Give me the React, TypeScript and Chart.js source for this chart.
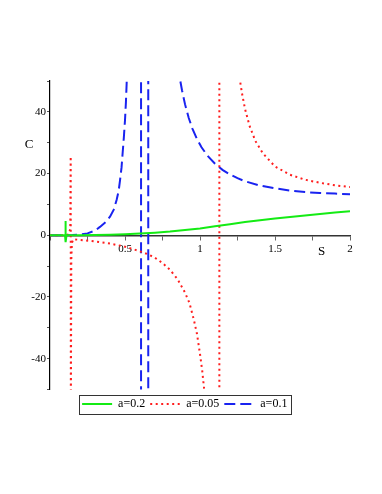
import { useEffect, useRef } from 'react';
import { Chart, registerables } from 'chart.js';

Chart.register(...registerables);

const seriesLabels = ['a=0.2', 'a=0.05', 'a=0.1'];
const xTitle = 'S';
const yTitle = 'C';

const xTickLabels = [0.5, 1, 1.5, 2];
const yTickLabels = [-40, -20, 0, 20, 40];

// a = 0.2 (green, solid)
const greenS = [0, 0.05, 0.1, 0.103, 0.105, 0.11, 0.15, 0.2, 0.3, 0.4, 0.5, 0.6, 0.7, 0.8, 0.9, 1.0, 1.1, 1.2, 1.3, 1.4, 1.5, 1.6, 1.7, 1.8, 1.9, 2.0];
const greenC = [0, 0, 0, 4.6, -2.2, 0, 0.01, 0.03, 0.08, 0.18, 0.35, 0.55, 0.85, 1.2, 1.7, 2.2, 2.9, 3.6, 4.3, 4.9, 5.4, 5.9, 6.4, 6.9, 7.35, 7.8];

// a = 0.05 (red, dotted)
const redS = [0, 0.05, 0.1, 0.125, 0.135, 0.138, 0.139, 0.142, 0.146, 0.155, 0.2, 0.3, 0.4, 0.5, 0.58, 0.65, 0.7, 0.75, 0.8, 0.85, 0.9, 0.93, 0.96, 0.98, 1.0, 1.015, 1.03, null, 1.129, 1.129, null, 1.26, 1.267, 1.28, 1.3, 1.33, 1.37, 1.42, 1.5, 1.6, 1.7, 1.8, 1.9, 2.0];
const redC = [0, 0, 0, 0.3, 2, 25.6, -60, -8, -2.5, -1.3, -1.5, -2.0, -2.7, -3.7, -4.9, -6.1, -7.3, -9.0, -11.2, -14.2, -18.6, -22, -27.6, -32, -38.5, -44, -51, null, -60, 60, null, 53, 50, 46, 41, 35.5, 30.5, 26.5, 22.3, 19.6, 18.0, 17.0, 16.2, 15.6];

// a = 0.1 (blue, dashed)
const blueS = [0, 0.1, 0.15, 0.2, 0.25, 0.3, 0.333, 0.37, 0.4, 0.425, 0.444, 0.458, 0.467, 0.477, 0.484, 0.492, 0.5, 0.506, 0.511, 0.515, null, 0.607, 0.607, null, 0.655, 0.655, null, 0.862, 0.865, 0.88, 0.9, 0.925, 0.95, 0.98, 1.01, 1.05, 1.1, 1.15, 1.2, 1.25, 1.3, 1.4, 1.5, 1.6, 1.7, 1.8, 1.9, 2.0];
const blueC = [0, 0, 0.05, 0.2, 0.6, 1.5, 2.7, 4.2, 6, 8.3, 11.4, 14.5, 17.9, 22, 26.5, 31.5, 37.3, 43, 49.2, 55, null, 60, -60, null, -60, 60, null, 55, 51, 47, 42.5, 38, 34.5, 31.2, 28.5, 25.8, 23.2, 21.2, 19.7, 18.5, 17.5, 16.1, 15.2, 14.5, 14.0, 13.7, 13.5, 13.3];

const FONT = '"Liberation Serif", "Times New Roman", serif';

function toPoints(s: (number | null)[], c: (number | null)[]) {
  return s.map((v, i) => ({ x: v, y: c[i] }));
}

export default function App() {
  const ref = useRef<HTMLCanvasElement>(null);

  useEffect(() => {
    if (!ref.current) return;

    const axisTitles = {
      id: 'axisTitles',
      afterDraw(chart: any) {
        const { ctx, scales } = chart;
        const x = scales.x;
        const y = scales.y;
        ctx.save();
        ctx.fillStyle = '#000';
        ctx.font = `13px ${FONT}`;
        ctx.textAlign = 'center';
        ctx.textBaseline = 'middle';
        ctx.fillText(yTitle, x.left - 21, y.getPixelForValue(29.5));
        ctx.fillText(xTitle, x.getPixelForValue(1.81), y.getPixelForValue(-5.4));
        ctx.restore();
      },
    };

    const legendFrame = {
      id: 'legendFrame',
      afterDraw(chart: any) {
        const hb = chart.legend?.legendHitBoxes;
        if (!hb || !hb.length) return;
        const { ctx } = chart;
        const l = Math.min(...hb.map((h: any) => h.left)) - 3;
        const r = Math.max(...hb.map((h: any) => h.left + h.width)) + 4;
        const t = Math.min(...hb.map((h: any) => h.top)) - 3.5;
        const b = Math.max(...hb.map((h: any) => h.top + h.height)) + 3.5;
        ctx.save();
        ctx.strokeStyle = '#333';
        ctx.lineWidth = 1;
        ctx.setLineDash([]);
        ctx.strokeRect(Math.round(l) + 0.5, Math.round(t) + 0.5, Math.round(r - l), Math.round(b - t));
        ctx.restore();
      },
    };

    const chart = new Chart(ref.current, {
      type: 'line',
      data: {
        datasets: [
          {
            label: seriesLabels[0],
            data: toPoints(greenS, greenC) as any,
            borderColor: 'rgb(20,235,20)',
            backgroundColor: 'rgb(20,235,20)',
            borderWidth: 2,
            pointRadius: 0,
            pointStyle: 'line',
            tension: 0,
            spanGaps: false,
          },
          {
            label: seriesLabels[1],
            data: toPoints(redS, redC) as any,
            borderColor: 'rgb(255,30,30)',
            backgroundColor: 'rgb(255,30,30)',
            borderWidth: 2,
            borderDash: [2, 3.5],
            pointRadius: 0,
            pointStyle: 'line',
            tension: 0,
            spanGaps: false,
          },
          {
            label: seriesLabels[2],
            data: toPoints(blueS, blueC) as any,
            borderColor: 'rgb(25,35,240)',
            backgroundColor: 'rgb(25,35,240)',
            borderWidth: 2,
            borderDash: [11, 5],
            pointRadius: 0,
            pointStyle: 'line',
            tension: 0,
            spanGaps: false,
          },
        ],
      },
      options: {
        responsive: false,
        animation: false,
        events: [],
        layout: { padding: { left: 11.5, top: 73, right: 24, bottom: 66 } },
        font: { family: FONT },
        scales: {
          x: {
            type: 'linear',
            position: { y: 0 } as any,
            min: 0,
            max: 2,
            afterFit: (s: any) => {
              s.height = 0;
            },
            border: { display: true, color: '#333', width: 1.5 },
            grid: { display: true, drawOnChartArea: false, drawTicks: true, tickLength: 4, color: '#666' },
            ticks: {
              stepSize: 0.25,
              autoSkip: false,
              maxRotation: 0,
              padding: 3,
              color: '#000',
              font: { family: FONT, size: 11 },
              callback: (v: any) => (xTickLabels.includes(Number(v)) ? String(v) : ''),
            },
          },
          y: {
            type: 'linear',
            position: 'left',
            min: -50,
            max: 50,
            afterFit: (s: any) => {
              s.width = 30.5;
            },
            border: { display: true, color: '#000', width: 1.2 },
            grid: { display: true, drawOnChartArea: false, drawTicks: true, tickLength: 3, color: '#555' },
            ticks: {
              stepSize: 10,
              autoSkip: false,
              padding: 1,
              color: '#000',
              font: { family: FONT, size: 11 },
              callback: (v: any) => (yTickLabels.includes(Number(v)) ? String(v) : ''),
            },
          },
        },
        plugins: {
          tooltip: { enabled: false },
          legend: {
            display: true,
            position: 'bottom',
            align: 'center',
            title: { display: true, text: '', font: { size: 3.5, lineHeight: 1 }, padding: 0 },
            labels: {
              usePointStyle: true,
              pointStyleWidth: 30,
              padding: 5,
              color: '#000',
              font: { family: FONT, size: 12 },
              generateLabels: (ch: any) => {
                const items = Chart.defaults.plugins.legend.labels.generateLabels(ch);
                items.forEach((it: any) => {
                  const ds: any = ch.data.datasets[it.datasetIndex];
                  it.lineDash = ds.borderDash || [];
                  it.lineWidth = ds.borderWidth;
                  it.strokeStyle = ds.borderColor;
                  it.lineCap = 'butt';
                });
                return items;
              },
            },
          },
        },
      },
      plugins: [axisTitles, legendFrame],
    });

    return () => chart.destroy();
  }, []);

  return <canvas ref={ref} width={366} height={478} style={{ display: 'block' }} />;
}
